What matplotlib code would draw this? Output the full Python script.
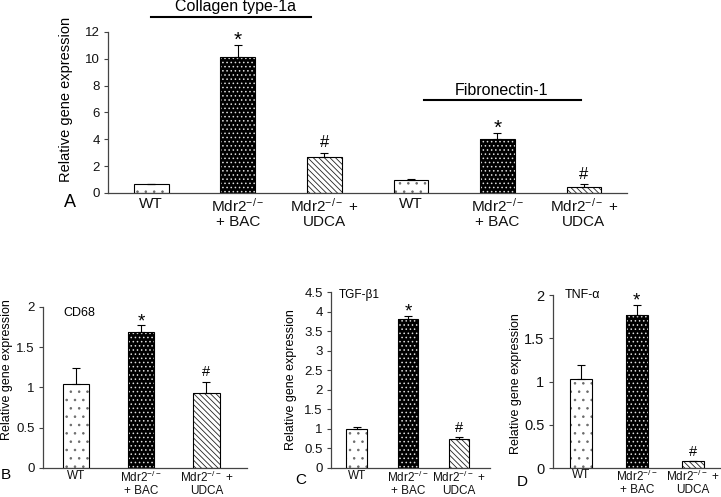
import numpy as np
import matplotlib
matplotlib.use("Agg")
from matplotlib import pyplot as plt
from matplotlib.ticker import FormatStrFormatter

plt.rcParams['font.family'] = ['Liberation Sans', 'DejaVu Sans']
plt.rcParams['mathtext.fontset'] = 'custom'
plt.rcParams['mathtext.rm'] = 'Liberation Sans'
plt.rcParams['mathtext.it'] = 'Liberation Sans:italic'
plt.rcParams['hatch.linewidth'] = 0.6

# data
groups = ['WT', 'Mdr2$^{-/-}$\n+ BAC', 'Mdr2$^{-/-}$ +\nUDCA']
kinds = ['wt', 'bac', 'udca']

a_labels = groups + groups
a_kinds = kinds + kinds
a_vals = [0.65, 10.15, 2.7, 1.0, 4.05, 0.45]
a_errs = [0.05, 0.9, 0.3, 0.05, 0.4, 0.2]
a_marks = ['', '*', '#', '', '*', '#']

cd68_vals = [1.04, 1.69, 0.93]
cd68_errs = [0.2, 0.08, 0.14]
tgf_vals = [1.0, 3.82, 0.75]
tgf_errs = [0.06, 0.07, 0.04]
tnf_vals = [1.03, 1.77, 0.08]
tnf_errs = [0.16, 0.12, 0.0]
marks = ['', '*', '#']

spine_col = '#444444'


def hatched_bar(ax, xi, v, width, face, hcol, hatch):
    # fill + hatch first, black outline on top
    b = ax.bar(xi, v, width, color=face, edgecolor=hcol, hatch=hatch,
               linewidth=0, zorder=2)
    ax.bar(xi, v, width, fill=False, edgecolor='black', linewidth=0.8,
           zorder=3)
    return b


def draw_panel(ax, vals, errs, kinds, labels, marks, ylim, ystep, xmax,
               tick_fs, lab_fs, mark_fs, pad, lsp=1.0):
    x = np.arange(len(vals))
    for xi, v, k in zip(x, vals, kinds):
        if k == 'wt':
            hatched_bar(ax, xi, v, 0.4, 'white', '#6a6a6a', '..')
        elif k == 'bac':
            hatched_bar(ax, xi, v, 0.4, 'black', '#dddddd', '....')
        else:
            hatched_bar(ax, xi, v, 0.4, 'white', '#222222', '\\' * 6)
    ax.errorbar(x, vals, yerr=[np.zeros(len(vals)), errs], fmt='none',
                ecolor='black', elinewidth=0.8, capsize=3, capthick=0.8,
                zorder=4)
    for xi, v, e, m in zip(x, vals, errs, marks):
        if m == '*':
            ax.annotate(m, (xi, v + e), xytext=(0, -0.5),
                        textcoords='offset points', ha='center',
                        va='baseline', fontsize=mark_fs + 3)
        elif m == '#':
            ax.annotate(m, (xi, v + e), xytext=(0, 4),
                        textcoords='offset points', ha='center',
                        va='baseline', fontsize=mark_fs)
    ax.set_xlim(-0.5, xmax)
    ax.set_ylim(*ylim)
    ax.set_yticks(np.arange(ylim[0], ylim[1] + ystep / 2, ystep))
    ax.yaxis.set_major_formatter(FormatStrFormatter('%g'))
    ax.set_xticks(x)
    ax.set_xticklabels(labels, fontsize=lab_fs, color='#111111',
                       linespacing=lsp)
    ax.tick_params(axis='x', length=0, pad=pad)
    ax.tick_params(axis='y', direction='out', length=3, width=0.8,
                   color=spine_col, labelsize=tick_fs, pad=3,
                   labelcolor='#111111')
    for s in ['top', 'right']:
        ax.spines[s].set_visible(False)
    for s in ['left', 'bottom']:
        ax.spines[s].set_color(spine_col)
        ax.spines[s].set_linewidth(0.9)


fig = plt.figure(figsize=(7.21, 4.97), dpi=100)

# panel A
axA = fig.add_axes([0.1498, 0.6117, 0.72, 0.324])
draw_panel(axA, a_vals, a_errs, a_kinds, a_labels, a_marks,
           (0, 12), 2, 5.5, 9.5, 11, 12, 3)
axA.set_ylabel('Relative gene expression', fontsize=10.5)
axA.yaxis.set_label_coords(-0.067, 0.58)
axA.plot([0.0, 1.85], [13.1, 13.1], color='black', lw=1.5, clip_on=False)
axA.text(0.97, 13.9, 'Collagen type-1a', ha='center', va='center',
         fontsize=11.5)
axA.plot([3.15, 4.97], [6.95, 6.95], color='black', lw=1.5, clip_on=False)
axA.text(4.05, 7.65, 'Fibronectin-1', ha='center', va='center',
         fontsize=11.5)
fig.text(0.097, 0.592, 'A', ha='center', va='center', fontsize=13)

# panel B
axB = fig.add_axes([0.0596, 0.0584, 0.283, 0.324])
draw_panel(axB, cd68_vals, cd68_errs, kinds, groups, marks,
           (0, 2), 0.5, 2.62, 9.5, 8.5, 10.5, 1.5)
axB.set_ylabel('Relative gene expression', fontsize=9)
axB.yaxis.set_label_coords(-0.147, 0.61)
axB.text(0.098, 0.963, 'CD68', transform=axB.transAxes, ha='left',
         va='center', fontsize=9)
fig.text(0.008, 0.044, 'B', ha='center', va='center', fontsize=11)

# panel C
axC = fig.add_axes([0.459, 0.0584, 0.2205, 0.354])
draw_panel(axC, tgf_vals, tgf_errs, kinds, groups, marks,
           (0, 4.5), 0.5, 2.6, 9.5, 8.5, 10.5, 1.5)
axC.set_ylabel('Relative gene expression', fontsize=9)
axC.yaxis.set_label_coords(-0.214, 0.505)
axC.text(0.05, 0.985, 'TGF-β1', transform=axC.transAxes, ha='left',
         va='center', fontsize=8.5)
fig.text(0.417, 0.034, 'C', ha='center', va='center', fontsize=11)

# panel D
axD = fig.add_axes([0.7666, 0.0583, 0.233, 0.348])
draw_panel(axD, tnf_vals, tnf_errs, kinds, groups, marks,
           (0, 2), 0.5, 2.5, 10.5, 8.5, 10.5, 0.8, lsp=0.95)
axD.set_ylabel('Relative gene expression', fontsize=9)
axD.yaxis.set_label_coords(-0.183, 0.486)
axD.text(0.073, 1.0, 'TNF-α', transform=axD.transAxes, ha='left',
         va='center', fontsize=9)
fig.text(0.724, 0.030, 'D', ha='center', va='center', fontsize=11)

fig.savefig('out.png', dpi=100)
